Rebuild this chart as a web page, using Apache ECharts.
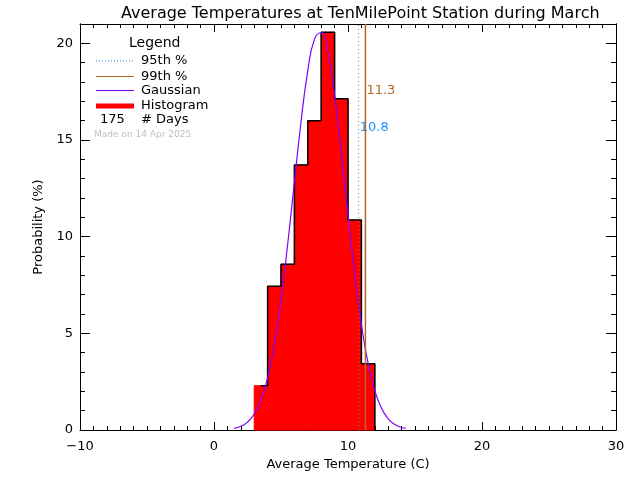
<!DOCTYPE html>
<html>
<head>
<meta charset="utf-8">
<script src="https://cdn.jsdelivr.net/npm/echarts@6/dist/echarts.min.js"></script>
<style>html,body{margin:0;padding:0;background:#fff}#c{width:640px;height:480px}</style>
</head>
<body>
<div id="c"></div>
<script>
// ---- data ----
const titleText = 'Average Temperatures at TenMilePoint Station during March';
const xAxisTitle = 'Average Temperature (C)';
const yAxisTitle = 'Probability (%)';
const binEdgesLow  = [3, 4, 5, 6, 7, 8, 9, 10, 11];
const binEdgesHigh = [4, 5, 6, 7, 8, 9, 10, 11, 12];
const histPercent  = [2.29, 7.43, 8.57, 13.71, 16.0, 20.57, 17.14, 10.86, 3.43];
const gaussX = [1.5, 2, 2.5, 3, 3.5, 4, 4.5, 5, 5.5, 6, 6.5, 7, 7.5, 8, 8.5, 9, 9.5, 10, 10.5, 11, 11.5, 12, 12.5, 13, 13.5, 14, 14.3];
const gaussY = [0.08, 0.19, 0.41, 0.83, 1.55, 2.70, 4.42, 6.74, 9.62, 12.82, 15.97, 18.59, 20.22, 20.55, 19.52, 17.33, 14.37, 11.13, 8.06, 5.45, 3.45, 2.04, 1.13, 0.58, 0.28, 0.13, 0.08];
const p95 = 10.8;
const p99 = 11.3;
const nDays = 175;
const madeOn = 'Made on 14 Apr 2025';
const xTicks = [-10, 0, 10, 20, 30];
const yTicks = [0, 5, 10, 15, 20];

// ---- chart ----
const FONT = 'DejaVu Sans';
const chart = echarts.init(document.getElementById('c'), null, {renderer: 'canvas'});

const histData = binEdgesLow.map((lo, i) => [lo, binEdgesHigh[i], histPercent[i]]);
const outline = [];
histPercent.forEach((h, i) => {
  outline.push([i === 0 ? (binEdgesLow[i] + binEdgesHigh[i]) / 2 : binEdgesLow[i], h]);
  outline.push([binEdgesHigh[i], h]);
});
outline.push([binEdgesHigh[binEdgesHigh.length - 1], 0]);

const YMAX = 21;
const axBase = {
  type: 'value', min: xTicks[0], max: xTicks[xTicks.length - 1], interval: 10,
  axisLine: {show: true, onZero: false, lineStyle: {color: '#000', width: 1}},
  splitLine: {show: false}
};
const xAxes = [
  Object.assign({}, axBase, {
    position: 'bottom',
    name: xAxisTitle, nameLocation: 'middle', nameGap: 28,
    nameTextStyle: {fontFamily: FONT, fontSize: 13, color: '#000'},
    axisTick: {inside: true, length: 8, lineStyle: {color: '#000'}},
    minorTick: {show: true, splitNumber: 10, length: 4, lineStyle: {color: '#000'}},
    axisLabel: {fontFamily: FONT, fontSize: 13, color: '#000', margin: 10,
      formatter: v => (v < 0 ? '\u2212' + Math.abs(v) : String(v))}
  }),
  Object.assign({}, axBase, {
    position: 'top',
    axisTick: {inside: true, length: 8, lineStyle: {color: '#000'}},
    minorTick: {show: true, splitNumber: 10, length: 4, lineStyle: {color: '#000'}},
    axisLabel: {show: false}
  })
];
const yBase = {
  type: 'value', min: yTicks[0], max: YMAX,
  axisLine: {show: true, onZero: false, lineStyle: {color: '#000', width: 1}},
  splitLine: {show: false}
};
const yAxes = [
  Object.assign({}, yBase, {
    position: 'left', interval: 5,
    name: yAxisTitle, nameLocation: 'middle', nameGap: 24, nameRotate: 90,
    nameTextStyle: {fontFamily: FONT, fontSize: 13, color: '#000'},
    axisTick: {inside: true, length: 10, lineStyle: {color: '#000'}},
    axisLabel: {fontFamily: FONT, fontSize: 13, color: '#000', margin: 7, showMaxLabel: false,
      formatter: v => (yTicks.indexOf(v) >= 0 ? String(v) : '')}
  }),
  Object.assign({}, yBase, {
    position: 'left', interval: 1,
    axisTick: {inside: true, length: 5, lineStyle: {color: '#000'}},
    axisLabel: {show: false}
  }),
  Object.assign({}, yBase, {
    position: 'right', interval: 5,
    axisTick: {inside: true, length: 10, lineStyle: {color: '#000'}},
    axisLabel: {show: false}
  }),
  Object.assign({}, yBase, {
    position: 'right', interval: 1,
    axisTick: {inside: true, length: 5, lineStyle: {color: '#000'}},
    axisLabel: {show: false}
  })
];

const C95 = '#a07850', C95leg = '#1e7fe0', C99 = '#b0692a', CG = '#7f00ff';

const option = {
  animation: false,
  backgroundColor: '#fff',
  title: {
    text: titleText, left: 116, top: 1,
    textStyle: {fontFamily: FONT, fontSize: 16, fontWeight: 'normal', color: '#000'}
  },
  grid: {left: 80, right: 24, top: 24, bottom: 50, containLabel: false},
  xAxis: xAxes,
  yAxis: yAxes,
  series: [
    {
      type: 'custom', xAxisIndex: 0, yAxisIndex: 0, z: 2,
      data: histData,
      renderItem: (params, api) => {
        const p0 = api.coord([api.value(0), api.value(2)]);
        const p1 = api.coord([api.value(1), 0]);
        return {type: 'rect', shape: {x: p0[0], y: p0[1], width: p1[0] - p0[0], height: p1[1] - p0[1]},
          style: {fill: '#ff0000', stroke: '#ff0000', lineWidth: 1}};
      }
    },
    {
      type: 'line', xAxisIndex: 0, yAxisIndex: 0, z: 3, data: outline,
      symbol: 'none', lineStyle: {color: '#000', width: 1.5}
    },
    {
      type: 'line', xAxisIndex: 0, yAxisIndex: 0, z: 4,
      data: gaussX.map((x, i) => [x, gaussY[i]]),
      symbol: 'none', smooth: true, lineStyle: {color: CG, width: 1.2}
    },
    {
      type: 'line', xAxisIndex: 0, yAxisIndex: 0, z: 5,
      data: [[p95, 0], [p95, YMAX]], symbol: 'none',
      lineStyle: {color: C95, width: 1, type: [1, 3]}
    },
    {
      type: 'line', xAxisIndex: 0, yAxisIndex: 0, z: 5,
      data: [[p99, 0], [p99, YMAX]], symbol: 'none',
      lineStyle: {color: C99, width: 1.5}
    }
  ]
};
chart.setOption(option);

const x95 = chart.convertToPixel({xAxisIndex: 0}, p95);
const x99 = chart.convertToPixel({xAxisIndex: 0}, p99);
const lx0 = 96, lx1 = 134, tx = 141;
const txt = (x, y, s, opts) => Object.assign({type: 'text', x: x, y: y,
  style: Object.assign({text: s, fontFamily: FONT, fontSize: 13, fill: '#000', verticalAlign: 'middle', align: 'left'}, opts || {})});
const ln = (y, color, width, dash) => ({type: 'line', shape: {x1: lx0, y1: y, x2: lx1, y2: y},
  style: {stroke: color, lineWidth: width, lineDash: dash || null}});
chart.setOption({
  graphic: [
    txt(129, 43, 'Legend', {fontSize: 14}),
    ln(61, C95leg, 1, [1, 2]), txt(tx, 61, '95th %'),
    ln(76.5, C99, 1), txt(tx, 76.5, '99th %'),
    ln(90.5, CG, 1), txt(tx, 90.5, 'Gaussian'),
    ln(106, '#ff0000', 5), txt(tx, 106, 'Histogram'),
    txt(100, 120, String(nDays)), txt(tx, 120, '# Days'),
    txt(94, 135, madeOn, {fontSize: 9, fill: '#c0c0c0'}),
    txt(x99 + 1, 91, p99.toFixed(1), {fill: C99}),
    txt(x95 + 1, 128, p95.toFixed(1), {fill: '#1e8fff'})
  ]
});
</script>
</body>
</html>
